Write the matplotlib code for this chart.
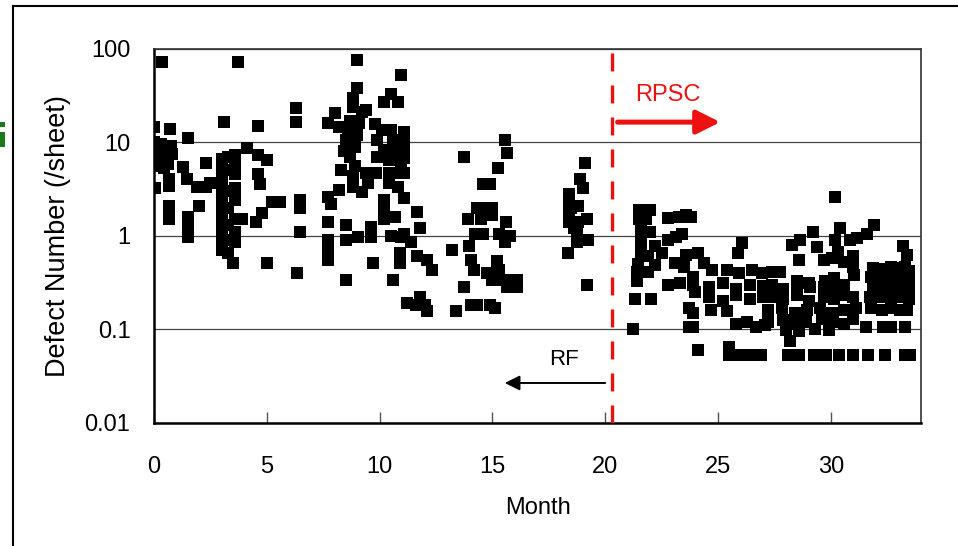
import matplotlib.pyplot as plt
from matplotlib.lines import Line2D
from matplotlib.patches import Rectangle

# Defects per sheet by month
# RF period (before the change)
rf_month = [
    0.37, 0.0, 0.7, 1.5, 0.0, 0.0, 0.0, 0.0, 0.0, 0.3, 0.35, 0.4, 0.45, 0.75, 0.8, 0.6,
    0.05, 0.65, 0.65, 1.3, 2.3, 1.45, 1.9, 2.3, 2.5, 0.65, 0.65, 0.65, 2.0, 1.5, 1.5, 1.5,
    3.1, 3.0, 3.0, 3.0, 3.0, 3.0, 3.0, 3.0, 3.0, 3.0, 3.0, 3.0,
    3.3, 3.3, 3.3, 3.3, 3.3, 3.3, 3.3, 3.6, 3.6, 3.6, 3.6, 3.6, 3.6, 3.6, 3.6, 3.5,
    3.7, 4.1, 4.6, 5.0, 4.6, 4.7, 4.6, 5.25, 5.6, 6.45, 6.45, 4.8, 4.5, 3.9, 6.45, 5.0, 6.35, 6.3, 6.3,
    9.0, 10.95, 9.0, 8.8, 8.8, 10.5, 10.2, 10.8, 8.0, 7.7, 8.2, 8.7, 9.2, 9.4, 9.8, 10.1, 10.5,
    8.5, 8.9, 8.7, 8.9, 8.8, 8.8, 9.9, 10.2, 10.6, 10.6, 9.9, 10.4, 10.8, 10.95,
    9.4, 9.85, 10.4, 10.8, 9.5, 10.4, 10.8, 8.2, 7.7, 7.85, 9.2, 10.2, 10.2, 10.7, 10.2,
    7.7, 8.5, 9.6, 7.7, 8.5, 9.05, 9.6, 10.5, 10.95, 7.7, 7.7, 10.9, 10.9, 9.7, 8.5, 10.6,
    11.1, 11.1, 11.1, 11.1, 11.1, 11.1, 8.6, 9.0, 8.4, 9.1, 8.3,
    11.1, 11.4, 11.65, 11.8, 11.65, 12.1, 12.3, 11.2, 11.8, 12.1, 11.6, 12.0,
    13.2, 13.75, 14.6, 14.3, 14.6, 13.9, 14.5, 14.25, 14.6, 13.95, 14.05, 14.2, 14.75, 13.75, 13.4, 14.05, 14.3, 14.9,
    15.55, 15.65, 15.25, 14.9, 15.0, 15.0, 15.6, 15.3, 15.8, 15.55,
    15.2, 15.3, 15.0, 15.45, 15.9, 16.1, 15.65, 16.1, 15.1,
    19.1, 18.9, 19.0, 18.4, 18.4, 18.4, 18.4, 18.8, 19.2, 18.8, 18.75, 19.25, 18.75, 18.35, 19.2, 18.6, 18.5,
]
rf_defects = [
    72, 14.5, 14, 11, 10, 8.9, 7.5, 6.8, 5.5, 9.5, 8.0, 6.5, 5.3, 9.0, 7.5, 5.8,
    3.2, 4.0, 3.4, 5.4, 6.0, 4.0, 3.3, 3.3, 3.7, 2.1, 1.75, 1.5, 2.1, 1.6, 1.23, 0.97,
    16.4, 6.6, 5.3, 4.4, 3.5, 2.6, 2.1, 1.7, 1.3, 1.05, 0.85, 0.7,
    7.0, 5.0, 3.0, 2.0, 1.3, 0.9, 0.65, 7.3, 5.5, 4.6, 3.2, 2.4, 1.5, 1.1, 0.85, 0.51,
    72, 8.7, 7.3, 6.5, 4.6, 3.6, 15, 2.3, 2.3, 2.4, 2.0, 1.75, 1.4, 1.5, 1.1, 0.51, 0.4, 23, 16.5,
    76, 52, 38, 30, 24, 33, 27, 27, 20.5, 16, 14.5, 17, 21, 22, 15.5, 13.5, 13.5,
    10.5, 8.9, 7.0, 5.5, 4.3, 3.3, 10.5, 8.2, 10.5, 8.2, 7.0, 6.5, 6.5, 5.0,
    4.7, 4.7, 4.7, 4.7, 3.7, 3.7, 3.3, 3.1, 2.6, 2.2, 2.9, 2.4, 1.9, 1.6, 1.5,
    1.4, 1.3, 1.25, 0.9, 0.9, 0.97, 0.97, 1.0, 0.97, 0.7, 0.55, 0.65, 0.51, 0.51, 0.34, 0.34,
    13, 10, 8.0, 6.8, 4.7, 2.5, 12.5, 12, 8.0, 16, 5.0,
    1.05, 0.85, 1.8, 1.2, 0.6, 0.55, 0.43, 0.19, 0.22, 0.155, 0.18, 0.18,
    0.7, 7.0, 3.6, 2.0, 2.0, 1.5, 1.5, 1.05, 1.05, 0.77, 0.55, 0.43, 0.4, 0.28, 0.155, 0.18, 0.18, 0.18,
    10.5, 7.6, 5.3, 3.6, 2.0, 1.65, 1.4, 1.05, 1.0, 0.85,
    0.53, 0.43, 0.34, 0.34, 0.34, 0.34, 0.28, 0.28, 0.17,
    6.0, 4.0, 3.2, 2.8, 2.2, 1.75, 1.4, 2.1, 1.5, 1.4, 1.05, 0.9, 0.85, 0.65, 0.3, 1.2, 2.0,
]

# RPSC period (after the change)
rpsc_month = [
    21.5, 22.0, 21.6, 22.8, 23.25, 23.6, 23.8, 21.6, 21.6, 21.6, 22.2, 22.8, 23.15, 23.4,
    21.4, 21.9, 22.2, 21.4, 23.1, 23.5, 23.6, 22.8, 23.3, 21.3, 22.05, 21.25, 23.7, 23.7, 21.8, 21.9, 22.0, 21.45, 22.5, 21.5,
    26.05, 25.9, 24.1, 24.4, 24.75, 25.4, 25.95, 26.5, 26.95, 23.9, 24.0,
    23.9, 24.6, 25.2, 25.8, 26.4, 27.0, 24.6, 25.2, 25.8, 26.4, 27.0,
    23.9, 23.9, 24.7, 25.4, 25.8, 26.3, 26.7, 27.1, 24.1, 25.5, 25.5, 25.95, 26.4, 26.9,
    30.2, 29.2, 30.4, 28.65, 28.3, 29.4, 30.2, 30.3, 28.6, 29.7, 30.05, 30.6, 27.4, 27.75, 28.5, 29.1, 29.75, 30.15,
    27.4, 27.9, 28.5, 29.05, 29.7, 30.15, 30.6, 27.4, 27.9, 28.5, 29.05, 29.7, 30.15, 30.6,
    27.2, 27.85, 28.4, 28.95, 29.5, 30.05, 30.6, 27.2, 27.9, 28.4, 28.9, 29.6, 30.1, 30.6,
    28.0, 28.6, 29.3, 29.9, 28.2, 28.1, 28.6, 29.25, 29.8, 30.35,
    31.9, 31.6, 31.15, 30.85, 33.2, 33.4, 33.3, 31.0, 31.0, 31.05, 31.0, 31.1, 31.0,
    31.85, 32.25, 32.65, 33.05, 33.45, 31.8, 32.25, 32.65, 33.05, 33.45, 31.85, 32.25, 32.65, 33.05, 33.45,
    31.75, 32.25, 32.65, 33.05, 33.45, 31.8, 32.25, 32.65, 33.05, 33.4,
    31.55, 32.3, 32.65, 33.3, 31.0, 31.65, 32.4, 33.3, 33.5,
]
rpsc_defects = [
    1.9, 1.9, 1.25, 1.55, 1.6, 1.65, 1.6, 0.97, 0.77, 0.6, 0.77, 0.9, 0.97, 1.05,
    0.41, 0.41, 0.49, 0.33, 0.51, 0.46, 0.62, 0.3, 0.31, 0.21, 0.21, 0.1, 0.17, 0.105, 1.5, 0.6, 1.1, 0.5, 0.65, 1.5,
    0.83, 0.65, 0.65, 0.51, 0.43, 0.43, 0.4, 0.43, 0.4, 0.36, 0.25,
    0.3, 0.28, 0.31, 0.27, 0.3, 0.29, 0.22, 0.2, 0.23, 0.21, 0.22,
    0.15, 0.105, 0.16, 0.155, 0.115, 0.12, 0.105, 0.11, 0.06, 0.064, 0.053, 0.053, 0.053, 0.053,
    2.6, 1.1, 1.2, 0.9, 0.8, 0.75, 0.9, 0.67, 0.55, 0.55, 0.58, 0.52, 0.41, 0.41, 0.33, 0.28, 0.33, 0.35,
    0.3, 0.27, 0.29, 0.31, 0.28, 0.26, 0.3, 0.22, 0.21, 0.23, 0.2, 0.22, 0.21, 0.23,
    0.16, 0.17, 0.15, 0.16, 0.17, 0.15, 0.16, 0.12, 0.125, 0.115, 0.12, 0.13, 0.12, 0.115,
    0.097, 0.095, 0.1, 0.097, 0.075, 0.053, 0.053, 0.053, 0.053, 0.053,
    1.3, 1.05, 0.94, 0.9, 0.77, 0.62, 0.46, 0.6, 0.46, 0.38, 0.22, 0.17, 0.13,
    0.45, 0.44, 0.46, 0.45, 0.42, 0.36, 0.35, 0.36, 0.35, 0.34, 0.28, 0.28, 0.27, 0.28, 0.27,
    0.22, 0.22, 0.21, 0.22, 0.21, 0.17, 0.16, 0.17, 0.16, 0.16,
    0.105, 0.105, 0.105, 0.105, 0.053, 0.053, 0.053, 0.053, 0.053,
]

change_month = 20.3
x_ticks = [0, 5, 10, 15, 20, 25, 30]
y_ticks = [0.01, 0.1, 1, 10, 100]
y_tick_labels = ["0.01", "0.1", "1", "10", "100"]

plt.rcParams["font.family"] = ["Liberation Sans", "DejaVu Sans"]

fig = plt.figure(figsize=(9.58, 5.46), dpi=100)
ax = fig.add_axes([0.1608, 0.2258, 0.8006, 0.685])

ax.scatter(rf_month, rf_defects, marker="s", s=85, color="black", linewidths=0, zorder=3)
ax.scatter(rpsc_month, rpsc_defects, marker="s", s=85, color="black", linewidths=0, zorder=3)

ax.set_yscale("log")
ax.set_xlim(0, 34)
ax.set_ylim(0.01, 100)
ax.set_xticks(x_ticks)
ax.set_yticks(y_ticks, y_tick_labels)
ax.minorticks_off()
ax.tick_params(direction="in", labelsize=17, color="#555")
ax.tick_params(axis="x", length=8, width=1, pad=24)
ax.tick_params(axis="y", length=0, pad=17)
ax.grid(axis="y", color="#444", lw=0.9)
ax.set_axisbelow(True)

for side in ["left", "bottom"]:
    ax.spines[side].set_linewidth(1.8)
for side in ["top", "right"]:
    ax.spines[side].set_linewidth(1.2)
    ax.spines[side].set_color("#333")

# change point and annotations
ax.axvline(change_month, color="#ee1111", lw=2.4, dashes=(5.4, 4.2), zorder=4)
ax.text(22.77, 32, "RPSC", color="#ee1111", fontsize=17, ha="center", va="center")
ax.annotate("", xy=(25.1, 16.4), xytext=(20.55, 16.4),
            arrowprops=dict(arrowstyle="-|>,head_length=0.6,head_width=0.3",
                            color="#ee1111", lw=3.6, mutation_scale=24,
                            shrinkA=0, shrinkB=0))
ax.text(18.16, 0.047, "RF", color="black", fontsize=16, ha="center", va="center")
ax.annotate("", xy=(15.55, 0.0266), xytext=(20.0, 0.0266),
            arrowprops=dict(arrowstyle="-|>,head_length=0.6,head_width=0.3",
                            color="black", lw=1.4, mutation_scale=15,
                            shrinkA=0, shrinkB=0))

ax.set_xlabel("Month", fontsize=17, labelpad=14)
ax.set_ylabel("Defect Number (/sheet)", fontsize=19.5)
ax.yaxis.set_label_coords(-0.108, 0.5)

# outer frame of the slide and the clipped green mark at the left edge
fig.add_artist(Line2D([13 / 958, 13 / 958], [0, 1 - 6 / 546],
                      transform=fig.transFigure, color="black", lw=1.5))
fig.add_artist(Line2D([13 / 958, 1], [1 - 6 / 546, 1 - 6 / 546],
                      transform=fig.transFigure, color="black", lw=1.5))
for x0, y0, w, h in [(0, 122, 5, 5), (0, 132, 5, 15)]:
    fig.add_artist(Rectangle((x0 / 958, 1 - (y0 + h) / 546), w / 958, h / 546,
                             transform=fig.transFigure, color="#1a7a1a", lw=0))

fig.savefig("out.png", dpi=100)
